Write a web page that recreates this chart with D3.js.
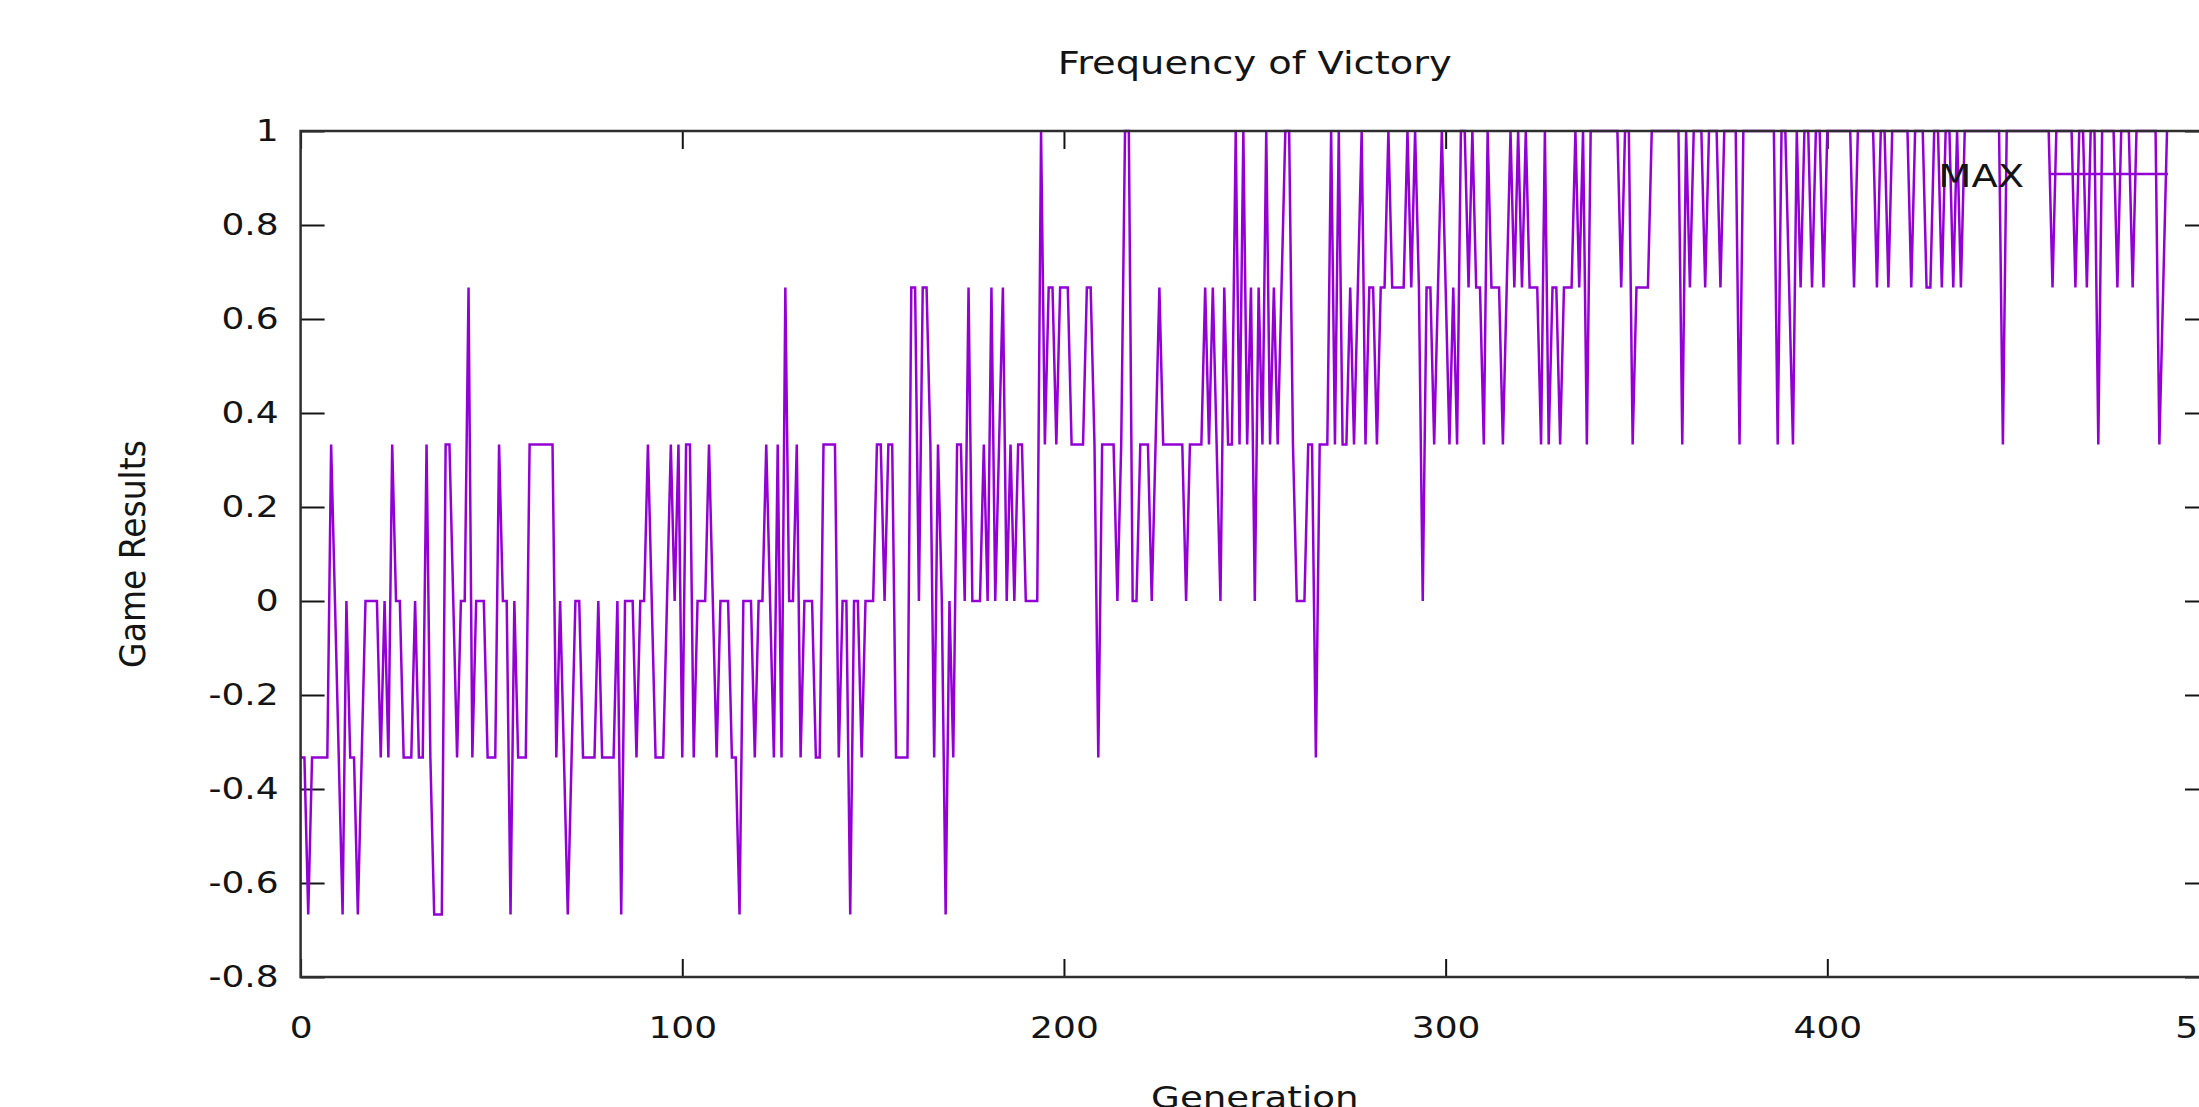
<!DOCTYPE html>
<html>
<head>
<meta charset="utf-8">
<script src="https://cdn.jsdelivr.net/npm/d3@7"></script>
<style>
body{margin:0;background:#ffffff;}
svg text{font-family:"DejaVu Sans",Verdana,sans-serif;fill:#141414;}
</style>
</head>
<body>
<svg id="chart" width="2199" height="1107"></svg>
<script>
var chartTitle = "Frequency of Victory";
var xLabel = "Generation";
var yLabel = "Game Results";
var seriesName = "MAX";
var xTicks = [0,100,200,300,400,500];
var yTicks = [-0.8,-0.6,-0.4,-0.2,0,0.2,0.4,0.6,0.8,1];
// one value per generation, starting at generation 0
var results = [
-0.333,-0.333,-0.667,-0.333,-0.333,-0.333,-0.333,-0.333,0.333,0,
-0.333,-0.667,0,-0.333,-0.333,-0.667,-0.333,0,0,0,
0,-0.333,0,-0.333,0.333,0,0,-0.333,-0.333,-0.333,
0,-0.333,-0.333,0.333,-0.333,-0.667,-0.667,-0.667,0.333,0.333,
0,-0.333,0,0,0.667,-0.333,0,0,0,-0.333,
-0.333,-0.333,0.333,0,0,-0.667,0,-0.333,-0.333,-0.333,
0.333,0.333,0.333,0.333,0.333,0.333,0.333,-0.333,0,-0.333,
-0.667,-0.333,0,0,-0.333,-0.333,-0.333,-0.333,0,-0.333,
-0.333,-0.333,-0.333,0,-0.667,0,0,0,-0.333,0,
0,0.333,0,-0.333,-0.333,-0.333,0,0.333,0,0.333,
-0.333,0.333,0.333,-0.333,0,0,0,0.333,0,-0.333,
0,0,0,-0.333,-0.333,-0.667,0,0,0,-0.333,
0,0,0.333,0,-0.333,0.333,-0.333,0.667,0,0,
0.333,-0.333,0,0,0,-0.333,-0.333,0.333,0.333,0.333,
0.333,-0.333,0,0,-0.667,0,0,-0.333,0,0,
0,0.333,0.333,0,0.333,0.333,-0.333,-0.333,-0.333,-0.333,
0.667,0.667,0,0.667,0.667,0.333,-0.333,0.333,0,-0.667,
0,-0.333,0.333,0.333,0,0.667,0,0,0,0.333,
0,0.667,0,0.333,0.667,0,0.333,0,0.333,0.333,
0,0,0,0,1,0.333,0.667,0.667,0.333,0.667,
0.667,0.667,0.333,0.333,0.333,0.333,0.667,0.667,0.333,-0.333,
0.333,0.333,0.333,0.333,0,0.333,1,1,0,0,
0.333,0.333,0.333,0,0.333,0.667,0.333,0.333,0.333,0.333,
0.333,0.333,0,0.333,0.333,0.333,0.333,0.667,0.333,0.667,
0.333,0,0.667,0.333,0.333,1,0.333,1,0.333,0.667,
0,0.667,0.333,1,0.333,0.667,0.333,0.667,1,1,
0.333,0,0,0,0.333,0.333,-0.333,0.333,0.333,0.333,
1,0.333,1,0.333,0.333,0.667,0.333,0.667,1,0.333,
0.667,0.667,0.333,0.667,0.667,1,0.667,0.667,0.667,0.667,
1,0.667,1,0.667,0,0.667,0.667,0.333,0.667,1,
0.667,0.333,0.667,0.333,1,1,0.667,1,0.667,0.667,
0.333,1,0.667,0.667,0.667,0.333,0.667,1,0.667,1,
0.667,1,0.667,0.667,0.667,0.333,1,0.333,0.667,0.667,
0.333,0.667,0.667,0.667,1,0.667,1,0.333,1,1,
1,1,1,1,1,1,0.667,1,1,0.333,
0.667,0.667,0.667,0.667,1,1,1,1,1,1,
1,1,0.333,1,0.667,1,1,1,0.667,1,
1,1,0.667,1,1,1,1,0.333,1,1,
1,1,1,1,1,1,1,0.333,1,1,
0.667,0.333,1,0.667,1,1,0.667,1,1,0.667,
1,1,1,1,1,1,1,0.667,1,1,
1,1,1,0.667,1,1,0.667,1,1,1,
1,1,0.667,1,1,1,0.667,0.667,1,1,
0.667,1,1,0.667,1,0.667,1,1,1,1,
1,1,1,1,1,1,0.333,1,1,1,
1,1,1,1,1,1,1,1,1,0.667,
1,1,1,1,1,0.667,1,1,0.667,1,
1,0.333,1,1,1,1,0.667,1,1,1,
0.667,1,1,1,1,1,1,0.333,0.667,1
];

var plotLeft = 300.6, plotRight = 2209, plotTop = 131, plotBottom = 977;
var stretch = 1.2;
var tickFont = 30;
var lineColor = "#9400d3";
var inkColor = "#141414";

var svg = d3.select("#chart");
var x = d3.scaleLinear().domain([0,500]).range([plotLeft,plotRight]);
var y = d3.scaleLinear().domain([-0.8,1]).range([plotBottom,plotTop]);

function styleAxis(g) {
g.attr("font-size",tickFont).attr("font-family",null).attr("color",inkColor);
g.select(".domain").remove();
g.selectAll(".tick line").attr("stroke-width",2);
}
function stretchText(sel) {
sel.each(function() {
	var t = d3.select(this);
	var tx = +t.attr("x") || 0;
	t.attr("x",tx/stretch).attr("transform","scale("+stretch+",1)");
});
}

// left and right y axes, ticks pointing inwards
var gLeft = svg.append("g").attr("transform","translate("+plotLeft+",0)")
.call(d3.axisLeft(y).tickValues(yTicks).tickSizeInner(-24).tickSizeOuter(0).tickPadding(22).tickFormat(d=>String(d)));
styleAxis(gLeft);
stretchText(gLeft.selectAll("text"));
var gRight = svg.append("g").attr("transform","translate("+plotRight+",0)")
.call(d3.axisRight(y).tickValues(yTicks).tickSizeInner(-24).tickSizeOuter(0).tickFormat(""));
styleAxis(gRight);

// bottom and top x axes
var gBottom = svg.append("g").attr("transform","translate(0,"+plotBottom+")")
.call(d3.axisBottom(x).tickValues(xTicks).tickSizeInner(-18).tickSizeOuter(0).tickPadding(40).tickFormat(d=>String(d)));
styleAxis(gBottom);
stretchText(gBottom.selectAll("text"));
var gTop = svg.append("g").attr("transform","translate(0,"+plotTop+")")
.call(d3.axisTop(x).tickValues(xTicks).tickSizeInner(-18).tickSizeOuter(0).tickFormat(""));
styleAxis(gTop);

// data line
var line = d3.line().x((d,i)=>x(i)).y(d=>y(d));
svg.append("path").datum(results).attr("d",line).attr("fill","none").attr("stroke",lineColor).attr("stroke-width",2.5).attr("stroke-linejoin","miter");

// frame
svg.append("rect").attr("x",plotLeft).attr("y",plotTop).attr("width",plotRight-plotLeft).attr("height",plotBottom-plotTop).attr("fill","none").attr("stroke","#2e2e2e").attr("stroke-width",2.5);

// legend
svg.append("text").text(seriesName).attr("x",2024/stretch).attr("y",187).attr("text-anchor","end").attr("font-size",32).attr("transform","scale("+stretch+",1)");
svg.append("line").attr("x1",2049).attr("x2",2168).attr("y1",174).attr("y2",174).attr("stroke",lineColor).attr("stroke-width",2.5);

// title and axis labels
svg.append("text").text(chartTitle).attr("x",((plotLeft+plotRight)/2)/stretch).attr("y",74).attr("text-anchor","middle").attr("font-size",32).attr("transform","scale("+stretch+",1)");
svg.append("text").text(xLabel).attr("x",((plotLeft+plotRight)/2)/stretch).attr("y",1108).attr("text-anchor","middle").attr("font-size",31).attr("transform","scale("+stretch+",1)");
svg.append("text").text(yLabel).attr("text-anchor","middle").attr("font-size",33)
.attr("transform","translate(145,"+((plotTop+plotBottom)/2)+") rotate(-90) scale(1,1.08)");
</script>
</body>
</html>
